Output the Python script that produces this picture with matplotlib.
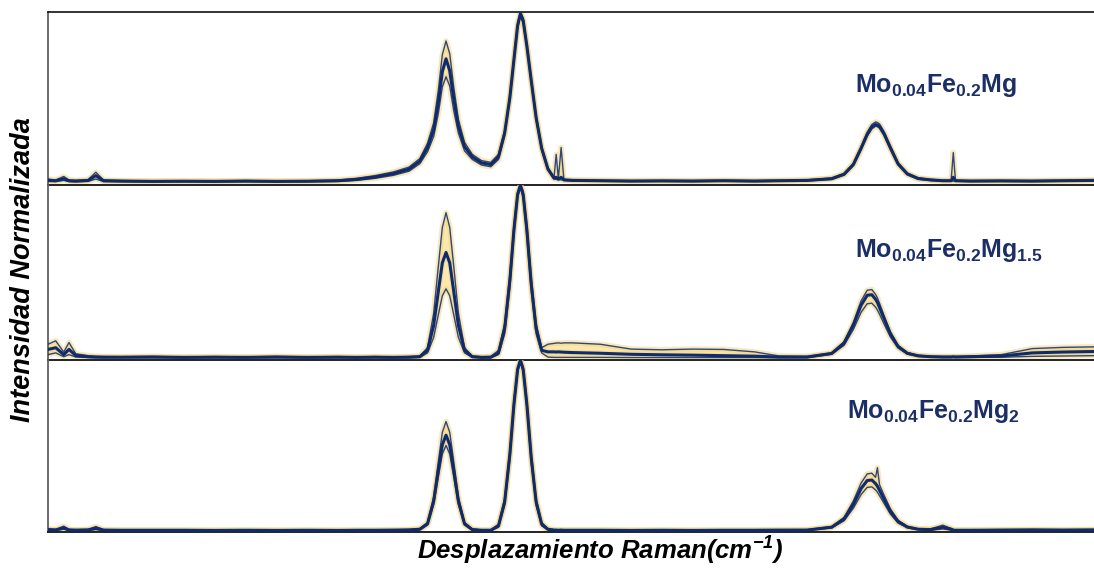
# Espectros Raman normalizados de tres catalizadores Mo-Fe-Mg

import matplotlib
matplotlib.use("Agg")
import matplotlib.pyplot as plt

plt.rcParams["font.family"] = ["Liberation Sans", "DejaVu Sans"]
plt.rcParams["mathtext.fontset"] = "custom"
plt.rcParams["mathtext.rm"] = "Liberation Sans"
plt.rcParams["mathtext.bf"] = "Liberation Sans:bold"
plt.rcParams["mathtext.it"] = "Liberation Sans:italic"
plt.rcParams["mathtext.bfit"] = "Liberation Sans:bold:italic"

# Raman shift (cm-1), shared by all spectra
shift = [60, 85, 111, 128, 150, 190, 215, 240, 300, 400,
         500, 600, 700, 800, 900, 1000, 1060, 1120, 1180, 1230,
         1265, 1290, 1310, 1325, 1338, 1350, 1362, 1375, 1390, 1410,
         1435, 1465, 1495, 1520, 1540, 1557, 1570, 1582, 1591, 1600,
         1612, 1626, 1642, 1660, 1680, 1700, 1707, 1714, 1723, 1732,
         1760, 1850, 1950, 2050, 2150, 2250, 2350, 2430, 2520, 2600,
         2640, 2670, 2695, 2715, 2730, 2742, 2748, 2755, 2770, 2790,
         2815, 2845, 2880, 2920, 2960, 2987, 2994, 3001, 3050, 3150,
         3250, 3350, 3450]

# Mo0.04Fe0.2Mg  (lower / mean / upper spectra)
mg1_lo = [0.006, 0.005, 0.012, 0.005, 0.004, 0.006, 0.020, 0.005, 0.004, 0.003,
          0.004, 0.003, 0.004, 0.003, 0.004, 0.006, 0.012, 0.024, 0.042, 0.066,
          0.110, 0.180, 0.270, 0.405, 0.560, 0.620, 0.565, 0.420, 0.290, 0.185,
          0.135, 0.102, 0.092, 0.135, 0.275, 0.485, 0.705, 0.905, 0.975, 0.935,
          0.785, 0.585, 0.365, 0.190, 0.072, 0.020, 0.018, 0.015, 0.016, 0.012,
          0.009, 0.007, 0.005, 0.006, 0.005, 0.007, 0.005, 0.007, 0.009, 0.018,
          0.043, 0.098, 0.190, 0.272, 0.314, 0.330, 0.327, 0.318, 0.274, 0.195,
          0.103, 0.045, 0.019, 0.011, 0.007, 0.007, 0.008, 0.007, 0.005, 0.006,
          0.005, 0.007, 0.009]
mg1_mid = [0.012, 0.010, 0.022, 0.010, 0.008, 0.012, 0.040, 0.010, 0.008, 0.006,
           0.007, 0.006, 0.008, 0.006, 0.007, 0.010, 0.018, 0.032, 0.052, 0.078,
           0.125, 0.205, 0.310, 0.470, 0.650, 0.725, 0.655, 0.490, 0.330, 0.210,
           0.150, 0.115, 0.105, 0.150, 0.290, 0.500, 0.720, 0.920, 0.990, 0.950,
           0.800, 0.600, 0.380, 0.200, 0.080, 0.025, 0.030, 0.020, 0.030, 0.015,
           0.012, 0.010, 0.008, 0.009, 0.008, 0.010, 0.008, 0.010, 0.012, 0.022,
           0.048, 0.105, 0.200, 0.282, 0.326, 0.340, 0.337, 0.328, 0.284, 0.204,
           0.109, 0.050, 0.023, 0.015, 0.010, 0.010, 0.030, 0.010, 0.008, 0.009,
           0.008, 0.010, 0.012]
mg1_hi = [0.020, 0.014, 0.035, 0.014, 0.012, 0.016, 0.060, 0.014, 0.011, 0.009,
          0.010, 0.009, 0.011, 0.009, 0.010, 0.014, 0.024, 0.040, 0.062, 0.090,
          0.140, 0.230, 0.350, 0.540, 0.750, 0.830, 0.755, 0.560, 0.370, 0.235,
          0.165, 0.128, 0.118, 0.165, 0.305, 0.515, 0.735, 0.935, 1.000, 0.965,
          0.815, 0.615, 0.395, 0.210, 0.088, 0.030, 0.165, 0.022, 0.205, 0.018,
          0.015, 0.013, 0.011, 0.012, 0.011, 0.013, 0.011, 0.013, 0.015, 0.026,
          0.053, 0.112, 0.210, 0.295, 0.340, 0.355, 0.352, 0.343, 0.297, 0.214,
          0.116, 0.055, 0.027, 0.018, 0.013, 0.013, 0.175, 0.013, 0.011, 0.012,
          0.011, 0.013, 0.015]

# Mo0.04Fe0.2Mg1.5
mg15_lo = [0.020, 0.030, 0.008, 0.020, 0.006, 0.003, 0.002, 0.002, 0.002, 0.002,
           0.002, 0.002, 0.002, 0.002, 0.002, 0.002, 0.002, 0.002, 0.002, 0.002,
           0.004, 0.030, 0.120, 0.250, 0.360, 0.400, 0.360, 0.250, 0.120, 0.030,
           0.004, 0.002, 0.002, 0.020, 0.140, 0.410, 0.710, 0.930, 0.985, 0.925,
           0.700, 0.390, 0.140, 0.030, 0.006, 0.004, 0.004, 0.004, 0.004, 0.004,
           0.004, 0.004, 0.003, 0.003, 0.003, 0.003, 0.003, 0.002, 0.002, 0.022,
           0.074, 0.165, 0.264, 0.314, 0.317, 0.294, 0.278, 0.253, 0.195, 0.122,
           0.058, 0.023, 0.010, 0.005, 0.004, 0.004, 0.005, 0.004, 0.004, 0.005,
           0.010, 0.012, 0.014]
mg15_mid = [0.050, 0.060, 0.020, 0.050, 0.015, 0.008, 0.006, 0.005, 0.005, 0.006,
            0.004, 0.005, 0.004, 0.006, 0.004, 0.005, 0.004, 0.005, 0.004, 0.005,
            0.008, 0.045, 0.190, 0.385, 0.550, 0.610, 0.550, 0.385, 0.190, 0.045,
            0.008, 0.004, 0.005, 0.030, 0.170, 0.450, 0.740, 0.945, 1.000, 0.945,
            0.740, 0.430, 0.170, 0.045, 0.036, 0.036, 0.035, 0.036, 0.035, 0.034,
            0.032, 0.028, 0.022, 0.019, 0.017, 0.014, 0.011, 0.006, 0.006, 0.027,
            0.087, 0.190, 0.305, 0.363, 0.366, 0.340, 0.322, 0.292, 0.226, 0.141,
            0.067, 0.028, 0.013, 0.008, 0.006, 0.006, 0.007, 0.006, 0.008, 0.012,
            0.030, 0.035, 0.038]
mg15_hi = [0.080, 0.100, 0.035, 0.090, 0.025, 0.014, 0.010, 0.009, 0.008, 0.010,
           0.007, 0.009, 0.007, 0.010, 0.007, 0.009, 0.007, 0.009, 0.007, 0.009,
           0.012, 0.060, 0.260, 0.530, 0.755, 0.840, 0.755, 0.530, 0.260, 0.060,
           0.012, 0.008, 0.009, 0.045, 0.200, 0.490, 0.770, 0.960, 1.000, 0.965,
           0.775, 0.470, 0.200, 0.060, 0.080, 0.085, 0.087, 0.088, 0.086, 0.088,
           0.088, 0.080, 0.052, 0.048, 0.052, 0.050, 0.036, 0.012, 0.010, 0.030,
           0.094, 0.206, 0.330, 0.392, 0.396, 0.368, 0.348, 0.316, 0.244, 0.152,
           0.074, 0.032, 0.016, 0.011, 0.010, 0.010, 0.011, 0.010, 0.012, 0.020,
           0.055, 0.062, 0.065]

# Mo0.04Fe0.2Mg2
mg2_lo = [0.004, 0.003, 0.010, 0.003, 0.002, 0.003, 0.008, 0.002, 0.002, 0.002,
          0.002, 0.001, 0.002, 0.001, 0.002, 0.001, 0.002, 0.002, 0.002, 0.003,
          0.006, 0.035, 0.155, 0.315, 0.450, 0.500, 0.450, 0.315, 0.155, 0.035,
          0.005, 0.002, 0.002, 0.022, 0.150, 0.420, 0.715, 0.930, 0.990, 0.930,
          0.715, 0.400, 0.150, 0.030, 0.006, 0.002, 0.002, 0.002, 0.002, 0.002,
          0.002, 0.002, 0.001, 0.002, 0.001, 0.002, 0.002, 0.003, 0.003, 0.018,
          0.060, 0.133, 0.213, 0.255, 0.258, 0.240, 0.227, 0.206, 0.160, 0.099,
          0.047, 0.019, 0.008, 0.004, 0.012, 0.005, 0.003, 0.002, 0.002, 0.003,
          0.003, 0.002, 0.003]
mg2_mid = [0.008, 0.006, 0.018, 0.006, 0.005, 0.006, 0.016, 0.005, 0.004, 0.004,
           0.004, 0.003, 0.004, 0.003, 0.004, 0.003, 0.004, 0.004, 0.005, 0.006,
           0.010, 0.042, 0.175, 0.355, 0.505, 0.560, 0.505, 0.355, 0.175, 0.042,
           0.008, 0.004, 0.004, 0.030, 0.170, 0.450, 0.740, 0.945, 1.000, 0.945,
           0.740, 0.430, 0.170, 0.040, 0.010, 0.005, 0.005, 0.004, 0.005, 0.004,
           0.004, 0.004, 0.003, 0.004, 0.003, 0.004, 0.004, 0.005, 0.005, 0.022,
           0.070, 0.155, 0.248, 0.295, 0.298, 0.277, 0.262, 0.238, 0.184, 0.115,
           0.055, 0.023, 0.010, 0.008, 0.022, 0.010, 0.005, 0.004, 0.004, 0.005,
           0.006, 0.005, 0.006]
mg2_hi = [0.012, 0.009, 0.028, 0.009, 0.007, 0.009, 0.026, 0.008, 0.006, 0.006,
          0.006, 0.005, 0.006, 0.005, 0.006, 0.005, 0.006, 0.006, 0.007, 0.009,
          0.014, 0.050, 0.200, 0.405, 0.577, 0.640, 0.577, 0.405, 0.200, 0.050,
          0.012, 0.006, 0.006, 0.040, 0.190, 0.480, 0.765, 0.958, 1.000, 0.960,
          0.765, 0.460, 0.190, 0.050, 0.014, 0.008, 0.008, 0.007, 0.008, 0.007,
          0.007, 0.007, 0.005, 0.006, 0.005, 0.006, 0.006, 0.007, 0.008, 0.026,
          0.080, 0.175, 0.280, 0.334, 0.338, 0.314, 0.370, 0.270, 0.208, 0.130,
          0.063, 0.027, 0.013, 0.012, 0.034, 0.015, 0.008, 0.007, 0.007, 0.008,
          0.009, 0.008, 0.009]

names = [r"$\mathbf{Mo_{0.04}Fe_{0.2}Mg}$",
         r"$\mathbf{Mo_{0.04}Fe_{0.2}Mg_{1.5}}$",
         r"$\mathbf{Mo_{0.04}Fe_{0.2}Mg_{2}}$"]
spectra = [(mg1_lo, mg1_mid, mg1_hi),
           (mg15_lo, mg15_mid, mg15_hi),
           (mg2_lo, mg2_mid, mg2_hi)]

navy = "#0d2b6e"
band = "#fce7ad"
glow = "#f2d27e"

W, H = 1094, 568
fig = plt.figure(figsize=(W / 100, H / 100), dpi=100)

# panel pixel extents (top, bottom) and label anchors
panels = [(12, 185), (185, 360), (360, 532)]
label_pos = [(855, 92), (855, 257), (847, 418)]
ybottom = [-0.015, -0.011, -0.006]

for i, (lo, mid, hi) in enumerate(spectra):
    ytop, ybot = panels[i]
    ax = fig.add_axes([48 / W, 1 - ybot / H, 1 - 48 / W, (ybot - ytop) / H])
    ax.fill_between(shift, lo, hi, color=band, lw=0, zorder=1)
    for y in (lo, mid, hi):
        ax.plot(shift, y, color=glow, lw=4, alpha=0.5, zorder=2)
    ax.plot(shift, lo, color=navy, lw=1.0, alpha=0.85, zorder=3)
    ax.plot(shift, hi, color=navy, lw=1.0, alpha=0.85, zorder=3)
    ax.plot(shift, mid, color=navy, lw=2.2, zorder=4)
    ax.set_xlim(60, 3450)
    ax.set_ylim(ybottom[i], 1.0)
    ax.set_xticks([])
    ax.set_yticks([])
    ax.patch.set_alpha(0)
    ax.spines["right"].set_visible(False)
    ax.spines["left"].set_color("#606060")
    ax.spines["left"].set_linewidth(1.3)
    ax.spines["bottom"].set_color("#222222")
    ax.spines["bottom"].set_linewidth(1.4)
    ax.spines["top"].set_visible(i == 0)
    ax.spines["top"].set_color("#111111")
    ax.spines["top"].set_linewidth(1.2)

    lx, ly = label_pos[i]
    fig.text(lx / W, 1 - ly / H, names[i], color="#1b2f66", fontsize=18,
             ha="left", va="baseline")

fig.text(417 / W, 1 - 560 / H, r"$\mathbfit{Desplazamiento\ Raman(cm^{-1})}$",
         fontsize=18.5, ha="left", va="baseline", color="black")
fig.text(23 / W, 1 - 270 / H, "Intensidad Normalizada", fontsize=19.5,
         fontweight="bold", style="italic", rotation=90,
         ha="center", va="center", color="black")

fig.savefig("out.png", dpi=100)
